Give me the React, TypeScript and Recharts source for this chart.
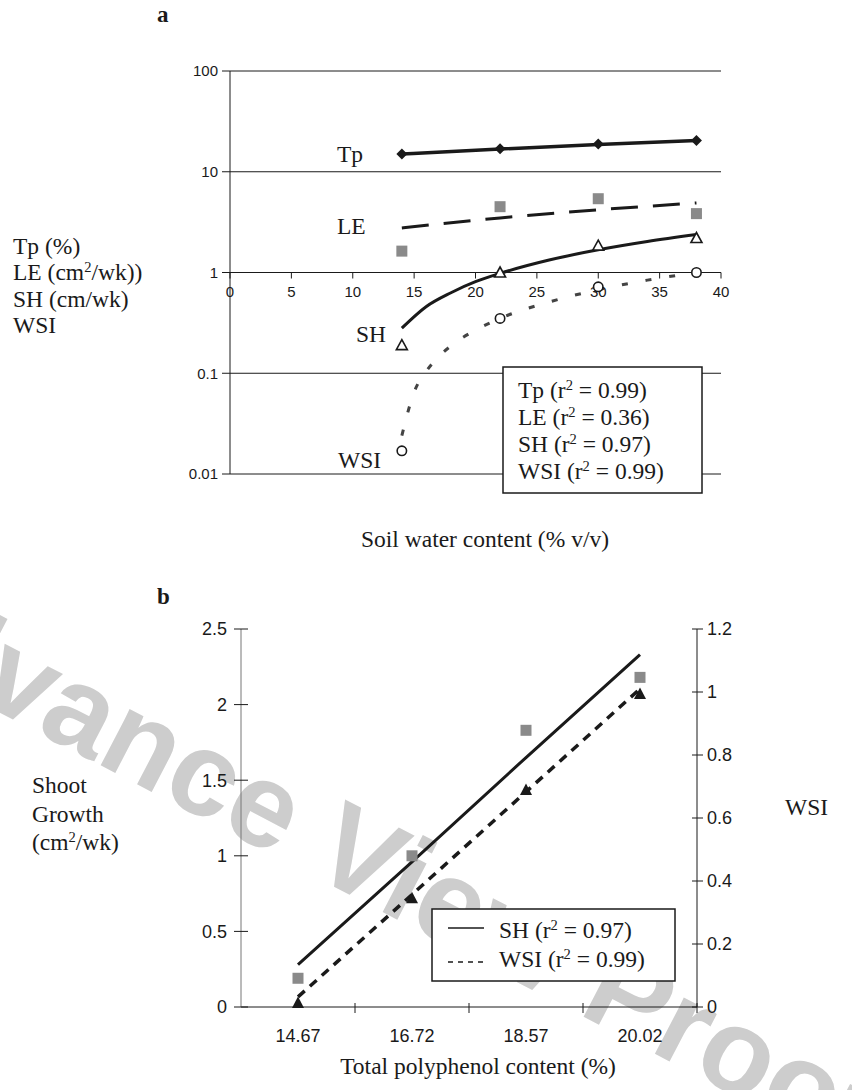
import React from "react";
import {
  ComposedChart,
  Line,
  Scatter,
  XAxis,
  YAxis,
  CartesianGrid,
  ReferenceDot,
} from "recharts";

// ---- panel a : soil water content (% v/v) ----
const soilWater = [14, 22, 30, 38];
const tpValues = [15.0, 16.9, 18.9, 20.4];
const leValues = [1.63, 4.5, 5.4, 3.84];
const shValues = [0.19, 1.0, 1.85, 2.2];
const wsiValues = [0.017, 0.35, 0.72, 1.0];

// fitted trend lines
const tpTrendX = [14, 22, 30, 38];
const tpTrend = [15.0, 16.8, 18.6, 20.4];
const leTrendX = [14, 22, 30, 38];
const leTrend = [2.77, 3.48, 4.19, 4.9];
const shTrendX = [14, 16, 18, 20, 22, 26, 30, 34, 38];
const shTrend = [0.28, 0.46, 0.63, 0.81, 0.98, 1.33, 1.68, 2.03, 2.38];
const wsiTrendX = [14, 15, 16, 17, 18, 20, 22, 26, 30, 34, 38];
const wsiTrend = [0.024, 0.065, 0.105, 0.146, 0.187, 0.268, 0.35, 0.51, 0.675, 0.84, 1.0];

const xTicksA = [0, 5, 10, 15, 20, 25, 30, 35, 40];
const yTicksA = [0.01, 0.1, 1, 10, 100];

// ---- panel b : total polyphenol content (%) ----
const polyphenol = ["14.67", "16.72", "18.57", "20.02"];
const shootGrowth = [0.19, 1.0, 1.83, 2.18];
const shootGrowthTrend = [0.28, 0.96, 1.65, 2.33];
const wsiB = [0.013, 0.345, 0.689, 0.994];
const wsiBTrend = [0.032, 0.357, 0.683, 1.01];

const yTicksLeftB = [0, 0.5, 1, 1.5, 2, 2.5];
const yTicksRightB = [0, 0.2, 0.4, 0.6, 0.8, 1, 1.2];

const SERIF = '"Liberation Serif", "Times New Roman", serif';
const SANS = '"Liberation Sans", Arial, sans-serif';
const INK = "#1a1a1a";
const GREY = "#8a8a8a";

const zip = (xs: number[], ys: number[]) => xs.map((x, i) => ({ x, y: ys[i] }));

const tpPts = zip(soilWater, tpValues);
const lePts = zip(soilWater, leValues);
const shPts = zip(soilWater, shValues);
const wsiPts = zip(soilWater, wsiValues);

const tableB = polyphenol.map((x, i) => ({
  x,
  sh: shootGrowth[i],
  shFit: shootGrowthTrend[i],
  wsi: wsiB[i],
  wsiFit: wsiBTrend[i],
}));

// marker shapes
const Diamond = (p: any) => {
  const { cx, cy } = p;
  const r = 5.5;
  return <polygon points={`${cx},${cy - r} ${cx + r},${cy} ${cx},${cy + r} ${cx - r},${cy}`} fill={INK} />;
};
const GreySquare = (p: any) => (
  <rect x={p.cx - 5.5} y={p.cy - 5.5} width={11} height={11} fill={GREY} />
);
const OpenTriangle = (p: any) => {
  const { cx, cy } = p;
  return (
    <polygon
      points={`${cx},${cy - 5.5} ${cx + 5.5},${cy + 4.5} ${cx - 5.5},${cy + 4.5}`}
      fill="#fff"
      stroke={INK}
      strokeWidth={1.6}
    />
  );
};
const OpenCircle = (p: any) => (
  <circle cx={p.cx} cy={p.cy} r={4.7} fill="#fff" stroke={INK} strokeWidth={1.6} />
);
const SolidTriangle = (p: any) => {
  const { cx, cy } = p;
  return <polygon points={`${cx},${cy - 6.5} ${cx + 6},${cy + 5} ${cx - 6},${cy + 5}`} fill={INK} />;
};

// axis ticks for panel b (ticks cross the axis line)
const LeftTickB = (p: any) => (
  <g>
    <line x1={p.x - 7} x2={p.x + 7} y1={p.y} y2={p.y} stroke={INK} />
    <text x={p.x - 14} y={p.y} dy="0.35em" textAnchor="end" fontSize={18} fontFamily={SANS} fill={INK}>
      {p.payload.value}
    </text>
  </g>
);
const RightTickB = (p: any) => (
  <g>
    <line x1={p.x - 5} x2={p.x + 6} y1={p.y} y2={p.y} stroke={INK} />
    <text x={p.x + 10} y={p.y} dy="0.35em" textAnchor="start" fontSize={18} fontFamily={SANS} fill={INK}>
      {p.payload.value}
    </text>
  </g>
);
const BottomTickB = (p: any) => {
  const off = p.payload.offset ?? 0;
  return (
    <g>
      <line x1={p.x + off} x2={p.x + off} y1={p.y - 4} y2={p.y + 6} stroke={INK} />
      <text x={p.x} y={p.y + 35} textAnchor="middle" fontSize={18} fontFamily={SANS} fill={INK}>
        {p.payload.value}
      </text>
    </g>
  );
};

const Sup = ({ children }: { children: React.ReactNode }) => (
  <tspan baselineShift="super" fontSize="0.62em">
    {children}
  </tspan>
);

const PanelA = () => (
  <ComposedChart width={852} height={560} margin={{ top: 71, right: 131, bottom: 86, left: 170 }}>
    <CartesianGrid vertical={false} stroke={INK} strokeWidth={1} />
    <XAxis type="number" dataKey="x" domain={[0, 40]} hide allowDataOverflow />
    <YAxis
      type="number"
      scale="log"
      domain={[0.01, 100]}
      ticks={yTicksA}
      interval={0}
      width={60}
      allowDataOverflow
      axisLine={{ stroke: INK }}
      tickLine={{ stroke: INK }}
      tickSize={8}
      tickMargin={4}
      tick={{ fill: INK, fontSize: 15, fontFamily: SANS }}
      tickFormatter={(v: number) => String(v)}
    />
    {xTicksA.map((t) => (
      <ReferenceDot
        key={t}
        x={t}
        y={1}
        r={0}
        ifOverflow="visible"
        shape={(p: any) => (
          <g>
            <line x1={p.cx} x2={p.cx} y1={p.cy} y2={p.cy + 6} stroke={INK} />
            <text x={p.cx} y={p.cy + 24} textAnchor="middle" fontSize={15} fontFamily={SANS} fill={INK}>
              {t}
            </text>
          </g>
        )}
      />
    ))}
    <Line data={zip(tpTrendX, tpTrend)} dataKey="y" type="monotone" stroke={INK} strokeWidth={3.5} dot={false} isAnimationActive={false} />
    <Line data={zip(leTrendX, leTrend)} dataKey="y" type="monotone" stroke={INK} strokeWidth={3} strokeDasharray="27 15" dot={false} isAnimationActive={false} />
    <Line data={zip(shTrendX, shTrend)} dataKey="y" type="monotone" stroke={INK} strokeWidth={3} dot={false} isAnimationActive={false} />
    <Line data={zip(wsiTrendX, wsiTrend)} dataKey="y" type="monotone" stroke="#444" strokeWidth={3} strokeDasharray="6 18" dot={false} isAnimationActive={false} />
    <Scatter data={tpPts} dataKey="y" shape={Diamond} isAnimationActive={false} />
    <Scatter data={lePts} dataKey="y" shape={GreySquare} isAnimationActive={false} />
    <Scatter data={shPts} dataKey="y" shape={OpenTriangle} isAnimationActive={false} />
    <Scatter data={wsiPts} dataKey="y" shape={OpenCircle} isAnimationActive={false} />
  </ComposedChart>
);

const PanelB = () => (
  <ComposedChart width={852} height={510} data={tableB} margin={{ top: 49, right: 95, bottom: 23, left: 181 }}>
    <XAxis
      dataKey="x"
      type="category"
      scale="band"
      height={60}
      interval={0}
      tickSize={0}
      tickMargin={0}
      tickLine={false}
      axisLine={{ stroke: INK }}
      tick={BottomTickB}
    />
    <YAxis
      yAxisId="left"
      domain={[0, 2.5]}
      ticks={yTicksLeftB}
      interval={0}
      width={60}
      tickSize={0}
      tickMargin={0}
      tickLine={false}
      axisLine={{ stroke: "#777" }}
      tick={LeftTickB}
    />
    <YAxis
      yAxisId="right"
      orientation="right"
      domain={[0, 1.2]}
      ticks={yTicksRightB}
      interval={0}
      width={60}
      tickSize={0}
      tickMargin={0}
      tickLine={false}
      axisLine={{ stroke: INK }}
      tick={RightTickB}
    />
    <Line yAxisId="left" dataKey="shFit" type="linear" stroke={INK} strokeWidth={3} dot={false} isAnimationActive={false} />
    <Line yAxisId="right" dataKey="wsiFit" type="linear" stroke={INK} strokeWidth={3.5} strokeDasharray="9 7" dot={false} isAnimationActive={false} />
    <Scatter yAxisId="left" dataKey="sh" shape={GreySquare} isAnimationActive={false} />
    <Scatter yAxisId="right" dataKey="wsi" shape={SolidTriangle} isAnimationActive={false} />
  </ComposedChart>
);

const serifText = { fontFamily: SERIF, fontSize: 23.5, fill: INK } as const;

export default function App() {
  return (
    <div style={{ position: "absolute", left: 0, top: 0, width: 852, height: 1090, background: "#fff", overflow: "hidden" }}>
      {/* watermark */}
      <svg width={852} height={1090} style={{ position: "absolute", left: 0, top: 0 }}>
        <text
          x={-167}
          y={626}
          transform="rotate(27.5 -167 626)"
          fontFamily={SANS}
          fontWeight="bold"
          fontSize={120}
          fill="#cdcdcd"
        >
          Advance View Proofs
        </text>
      </svg>

      <div style={{ position: "absolute", left: 0, top: 0 }}>
        <PanelA />
      </div>
      <div style={{ position: "absolute", left: 0, top: 580 }}>
        <PanelB />
      </div>

      {/* annotations, titles and legends */}
      <svg width={852} height={1090} style={{ position: "absolute", left: 0, top: 0, pointerEvents: "none" }}>
        <text x={157} y={22} fontFamily={SERIF} fontWeight="bold" fontSize={23} fill={INK}>a</text>
        <text x={337} y={162} {...serifText}>Tp</text>
        <text x={337} y={234} {...serifText}>LE</text>
        <text x={356} y={342} {...serifText}>SH</text>
        <text x={338} y={468} {...serifText}>WSI</text>

        <text x={13} y={253.5} {...serifText}>Tp (%)</text>
        <text x={13} y={280} {...serifText}>LE (cm<Sup>2</Sup>/wk))</text>
        <text x={13} y={306.5} {...serifText}>SH (cm/wk)</text>
        <text x={13} y={333} {...serifText}>WSI</text>

        <rect x={503} y={367} width={199} height={126} fill="#fff" stroke={INK} strokeWidth={1.5} />
        <text x={518} y={398} {...serifText}>Tp (r<Sup>2</Sup> = 0.99)</text>
        <text x={518} y={425} {...serifText}>LE (r<Sup>2</Sup> = 0.36)</text>
        <text x={518} y={452} {...serifText}>SH (r<Sup>2</Sup> = 0.97)</text>
        <text x={518} y={479} {...serifText}>WSI (r<Sup>2</Sup> = 0.99)</text>

        <text x={485} y={547} textAnchor="middle" {...serifText}>Soil water content (% v/v)</text>

        <text x={157} y={604} fontFamily={SERIF} fontWeight="bold" fontSize={23} fill={INK}>b</text>
        <text x={32} y={793} {...serifText}>Shoot</text>
        <text x={32} y={822} {...serifText}>Growth</text>
        <text x={32} y={850} {...serifText}>(cm<Sup>2</Sup>/wk)</text>
        <text x={785} y={815} {...serifText}>WSI</text>

        <rect x={432} y={909} width={243} height={72} fill="#fff" stroke={INK} strokeWidth={1.5} />
        <line x1={448} x2={484} y1={928} y2={928} stroke={INK} strokeWidth={1.5} />
        <text x={499} y={938} {...serifText}>SH (r<Sup>2</Sup> = 0.97)</text>
        <line x1={448} x2={484} y1={962} y2={962} stroke={INK} strokeWidth={1.5} strokeDasharray="5 5" />
        <text x={499} y={967} {...serifText}>WSI (r<Sup>2</Sup> = 0.99)</text>

        <text x={478} y={1074} textAnchor="middle" {...serifText}>Total polyphenol content (%)</text>
      </svg>
    </div>
  );
}
